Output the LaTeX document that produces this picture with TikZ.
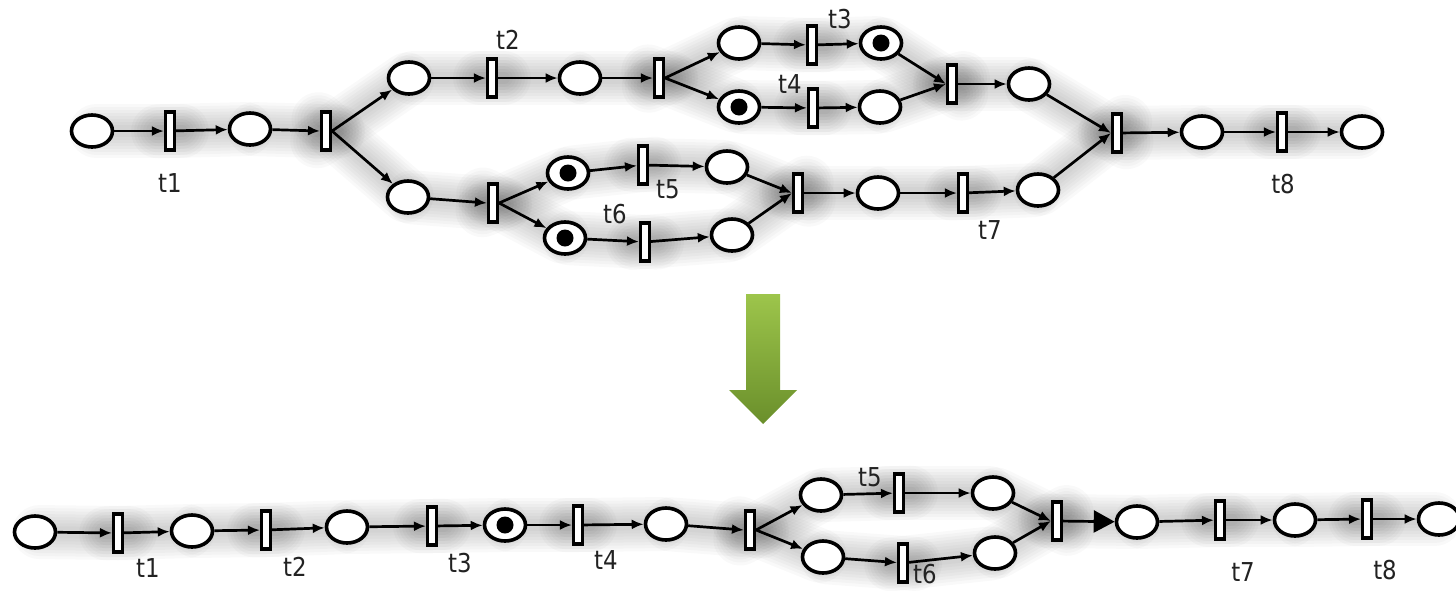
\documentclass[tikz,border=0pt]{standalone}
\usepackage{fontspec}
\setmainfont{DejaVu Sans}[FakeStretch=0.88]
\usetikzlibrary{shapes.geometric,arrows.meta}
\pgfdeclarelayer{shadow}
\pgfsetlayers{shadow,main}
\definecolor{arrowtop}{HTML}{9DC54B}
\definecolor{arrowbot}{HTML}{6A8F2B}
\definecolor{labelgray}{HTML}{222222}

% arcs of the upper net (source/target, forks leave from .east, joins enter at .west)
\newcommand\netAarcs{a1/at1, at1/a2, a2/af1.west, af1.east/a3, af1.east/a10,
  a3/at2, at2/a4, a4/af2.west, af2.east/a5, af2.east/a7,
  a5/at3, at3/a6, a7/at4, at4/a8, a6/aj1.west, a8/aj1.west, aj1/a9,
  a10/af3.west, af3.east/a11, af3.east/a13, a11/at5, at5/a12, a13/at6, at6/a14,
  a12/aj2.west, a14/aj2.west, aj2/a15, a15/at7, at7/a16,
  a9/aj3.west, a16/aj3.west, aj3/a17, a17/at8, at8/a18}
% arcs of the lower net (the arc bj -> b10 is drawn with a large head)
\newcommand\netBarcs{b1/bt1, bt1/b2, b2/bt2, bt2/b3, b3/bt3, bt3/b4, b4/bt4, bt4/b5,
  b5/bf.west, bf.east/b6, bf.east/b8, b6/bt5, bt5/b7, b8/bt6, bt6/b9,
  b7/bj.west, b9/bj.west, b10/bt7, bt7/b11, b11/bt8, bt8/b12}

\begin{document}
\begin{tikzpicture}[x=1pt,y=-1pt,
  place/.style={ellipse,draw,line width=3.6pt,fill=white,
    minimum width=41pt,minimum height=32pt,inner sep=0pt},
  trans/.style={rectangle,draw,line width=3.1pt,fill=white,
    minimum width=9pt,minimum height=38pt,inner sep=0pt},
  tlabel/.style={font=\fontsize{26}{28}\selectfont,text=labelgray,inner sep=0pt},
  arc/.style={line width=2.7pt,-{Latex[length=12pt,width=10pt]}},
  bigarc/.style={line width=2.7pt,-{Triangle[length=21pt,width=22pt]}},
  halo/.style={line width=#1,line cap=round,line join=round,black,opacity=0.024,
    shorten <=-18pt,shorten >=-18pt}
]
\useasboundingbox (0,0) rectangle (1456,590);

% ---------- upper net ----------
\node[place] (a1)  at (92,131)   {};
\node[trans] (at1) at (170,131)  {};
\node[place] (a2)  at (250,129)  {};
\node[trans] (af1) at (326,131)  {};
\node[place] (a3)  at (409,78)   {};
\node[trans] (at2) at (492,78)   {};
\node[place] (a4)  at (580,78)   {};
\node[trans] (af2) at (659,78)   {};
\node[place] (a5)  at (739,43)   {};
\node[trans] (at3) at (812,45)   {};
\node[place] (a6)  at (881,43)   {};
\node[place] (a7)  at (739,107)  {};
\node[trans] (at4) at (813,108)  {};
\node[place] (a8)  at (880,107)  {};
\node[trans] (aj1) at (952,84)   {};
\node[place] (a9)  at (1029,84)  {};
\node[place] (a10) at (408,197)  {};
\node[trans] (af3) at (493,203)  {};
\node[place] (a11) at (568,173)  {};
\node[trans] (at5) at (643,165)  {};
\node[place] (a12) at (727,167)  {};
\node[place] (a13) at (565,238)  {};
\node[trans] (at6) at (645,242)  {};
\node[place] (a14) at (732,235)  {};
\node[trans] (aj2) at (798,193)  {};
\node[place] (a15) at (878,193)  {};
\node[trans] (at7) at (963,193)  {};
\node[place] (a16) at (1038,190) {};
\node[trans] (aj3) at (1117,133) {};
\node[place] (a17) at (1202,132) {};
\node[trans] (at8) at (1282,132) {};
\node[place] (a18) at (1362,132) {};

\node[tlabel] (la1) at (170,183) {t1};
\node[tlabel] (la2) at (508,40)  {t2};
\node[tlabel] (la3) at (840,19)  {t3};
\node[tlabel] (la4) at (790,84)  {t4};
\node[tlabel] (la5) at (668,189) {t5};
\node[tlabel] (la6) at (615,214) {t6};
\node[tlabel] (la7) at (990,230) {t7};
\node[tlabel] (la8) at (1283,184) {t8};

% ---------- lower net ----------
\node[place] (b1)  at (35,532)   {};
\node[trans] (bt1) at (118,533)  {};
\node[place] (b2)  at (192,531)  {};
\node[trans] (bt2) at (266,530)  {};
\node[place] (b3)  at (347,527)  {};
\node[trans] (bt3) at (432,526)  {};
\node[place] (b4)  at (505,525)  {};
\node[trans] (bt4) at (578,525)  {};
\node[place] (b5)  at (666,524)  {};
\node[trans] (bf)  at (750,530)  {};
\node[place] (b6)  at (821,495)  {};
\node[trans] (bt5) at (899,493)  {};
\node[place] (b7)  at (993,493)  {};
\node[place] (b8)  at (823,557)  {};
\node[trans] (bt6) at (903,563)  {};
\node[place] (b9)  at (995,553)  {};
\node[trans] (bj)  at (1057,521) {};
\node[place] (b10) at (1137,522) {};
\node[trans] (bt7) at (1220,520) {};
\node[place] (b11) at (1295,520) {};
\node[trans] (bt8) at (1367,519) {};
\node[place] (b12) at (1439,519) {};

\node[tlabel] (lb1) at (148,568) {t1};
\node[tlabel] (lb2) at (295,567) {t2};
\node[tlabel] (lb3) at (460,563) {t3};
\node[tlabel] (lb4) at (606,560) {t4};
\node[tlabel] (lb5) at (870,477) {t5};
\node[tlabel] (lb6) at (925,574) {t6};
\node[tlabel] (lb7) at (1243,572) {t7};
\node[tlabel] (lb8) at (1385,570) {t8};

% tokens in the marked places
\foreach \p in {a6,a7,a11,a13,b4} { \fill (\p.center) circle (8.5pt); }

% ---------- arcs ----------
\foreach \u/\v in \netAarcs { \draw[arc] (\u) -- (\v); }
\foreach \u/\v in \netBarcs { \draw[arc] (\u) -- (\v); }
\draw[bigarc] (bj) -- (b10);

% ---------- soft drop shadow under both nets ----------
\begin{pgfonlayer}{shadow}
  \begin{scope}[shift={(5,13)}]
    \foreach \w in {54,48,42,36,30,24,18,12} {
      \foreach \u/\v in \netAarcs { \draw[halo=\w pt] (\u) -- (\v); }
      \foreach \u/\v in \netBarcs { \draw[halo=\w pt] (\u) -- (\v); }
      \draw[halo=\w pt] (bj) -- (b10);
    }
  \end{scope}
\end{pgfonlayer}

% ---------- green arrow between the nets ----------
\shade[top color=arrowtop,bottom color=arrowbot]
  (746,294) -- (780,294) -- (780,390) -- (797,390) -- (763,424)
  -- (729,390) -- (746,390) -- cycle;
\end{tikzpicture}
\end{document}
